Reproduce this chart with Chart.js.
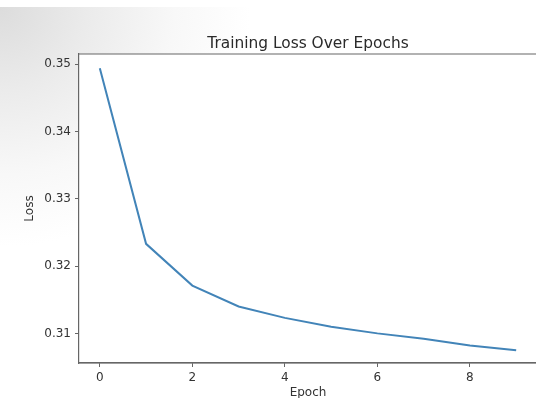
<!DOCTYPE html>
<html>
<head>
<meta charset="utf-8">
<script src="https://cdn.jsdelivr.net/npm/chart.js@4"></script>
<style>
  html, body { margin: 0; padding: 0; overflow: hidden; background: #fff; }
  #wrap {
    position: relative;
    width: 536px;
    height: 398px;
    overflow: hidden;
    /* the grey photo shading in the top left corner */
    background:
      linear-gradient(#fff, #fff) top left / 100% 7px no-repeat,
      radial-gradient(ellipse 250px 240px at 0 7px, #dcdcdc 0%, #ebebeb 35%, #f8f8f8 70%, #fff 100%);
  }
  canvas { display: block; }
</style>
</head>
<body>
<div id="wrap"><canvas id="chart" width="544" height="398"></canvas></div>
<script>
// values
const epochs = [0, 1, 2, 3, 4, 5, 6, 7, 8, 9];
const lossValues = [0.3494, 0.3233, 0.3171, 0.3140, 0.3123, 0.3110, 0.3100, 0.3092, 0.3082, 0.3075];
const xTicks = [0, 2, 4, 6, 8];
const yTicks = [0.31, 0.32, 0.33, 0.34, 0.35];
const chartTitle = 'Training Loss Over Epochs';

const FONT = '"DejaVu Sans", sans-serif';
const TEXT = '#333';
const SPINE = '#666';

// white axes face, top/bottom spines run to the edge, title centred over the plot
// (the right spine falls outside the photographed area)
const framePlugin = {
    id: 'frame',
    beforeDraw(chart) {
        const { ctx, chartArea: a } = chart;
        ctx.save();
        ctx.fillStyle = '#fff';
        ctx.fillRect(a.left, a.top, chart.width - a.left, a.bottom - a.top);
        ctx.restore();
    },
    afterDraw(chart) {
        const { ctx, chartArea: a } = chart;
        ctx.save();
        ctx.strokeStyle = SPINE;
        ctx.lineWidth = 1.2;
        ctx.beginPath();
        ctx.moveTo(a.left, a.top);
        ctx.lineTo(chart.width, a.top);
        ctx.moveTo(a.left, a.bottom);
        ctx.lineTo(chart.width, a.bottom);
        ctx.stroke();
        ctx.fillStyle = '#2a2a2a';
        ctx.font = '15.4px ' + FONT;
        ctx.textAlign = 'center';
        ctx.textBaseline = 'alphabetic';
        ctx.fillText(chartTitle, (a.left + a.right) / 2, 48);
        ctx.restore();
    }
};

const points = epochs.map((e, i) => ({ x: e, y: lossValues[i] }));

new Chart(document.getElementById('chart'), {
    type: 'line',
    data: {
        datasets: [{
            label: 'Loss',
            data: points,
            borderColor: '#4284b8',
            borderWidth: 2,
            pointRadius: 0,
            tension: 0,
            fill: false
        }]
    },
    options: {
        responsive: false,
        animation: false,
        layout: { padding: { top: 54, right: 7, left: 0, bottom: 0 } },
        plugins: {
            legend: { display: false },
            tooltip: { enabled: false },
            title: { display: false }
        },
        scales: {
            x: {
                type: 'linear',
                min: -0.45,
                max: 9.45,
                afterBuildTicks: (s) => { s.ticks = xTicks.map(v => ({ value: v })); },
                afterFit: (s) => { s.height = 35; },
                grid: { drawOnChartArea: false, tickLength: 4, color: SPINE },
                border: { color: SPINE, width: 1.2 },
                ticks: { color: TEXT, font: { family: FONT, size: 12 }, padding: 4, maxRotation: 0 },
                title: {
                    display: true,
                    text: 'Epoch',
                    color: TEXT,
                    font: { family: FONT, size: 12 },
                    padding: { top: 0, bottom: -2 }
                }
            },
            y: {
                min: 0.3056,
                max: 0.3515,
                afterBuildTicks: (s) => { s.ticks = yTicks.map(v => ({ value: v })); },
                afterFit: (s) => { s.width = 79; },
                grid: { drawOnChartArea: false, tickLength: 4, color: SPINE },
                border: { color: SPINE, width: 1.2 },
                ticks: {
                    color: TEXT,
                    font: { family: FONT, size: 12 },
                    padding: 4,
                    callback: (v) => v.toFixed(2)
                },
                title: {
                    display: true,
                    text: 'Loss',
                    color: TEXT,
                    font: { family: FONT, size: 12 },
                    padding: { top: 23, bottom: 0 }
                }
            }
        }
    },
    plugins: [framePlugin]
});
</script>
</body>
</html>
